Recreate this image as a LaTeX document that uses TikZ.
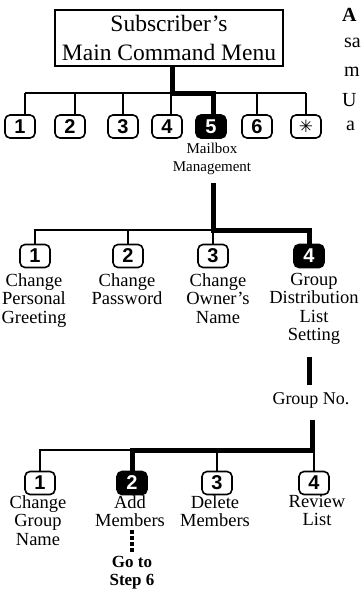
\documentclass[tikz,border=0pt]{standalone}
\usepackage{fontspec}
\setmainfont{Liberation Serif}
\newfontfamily\btnfont{Liberation Sans}
\newfontfamily\symfont{DejaVu Sans}
\begin{document}
\begin{tikzpicture}[x=1pt,y=-1pt,
  thin line/.style={line width=1.5pt},
  thick line/.style={line width=5pt},
  keybox/.style={draw, line width=1.6pt, rounded corners=5pt, minimum width=30pt,
     minimum height=23pt, inner sep=0pt, font=\btnfont\bfseries\fontsize{20}{20}\selectfont},
  keyon/.style={keybox, fill=black, text=white},
  lbl/.style={align=center, inner sep=0pt, anchor=north, font=\fontsize{18.5}{18.5}\selectfont},
  frag/.style={anchor=west, inner sep=0pt, font=\fontsize{20}{20}\selectfont}]
\clip (0,0) rectangle (360,600);
\fill[white] (0,0) rectangle (360,600);
% title
\node[draw, line width=1.4pt, minimum width=228pt, minimum height=56pt, align=center,
  font=\fontsize{23.5}{29}\selectfont, inner sep=0pt] (title) at (169,38)
  {Subscriber's\\Main Command Menu};
% right-hand fragments of neighbouring text
\node[frag, font=\bfseries\fontsize{20}{20}\selectfont] (f1) at (342,15) {A};
\node[frag] (f2) at (344,43) {sa};
\node[frag] (f3) at (344,72) {m};
\node[frag] (f4) at (342,100) {U};
\node[frag] (f5) at (346,126) {a};
% main keys
\node[keybox] (a1) at (20,126.5) {1};
\node[keybox] (a2) at (70,126.5) {2};
\node[keybox] (a3) at (123,126.5) {3};
\node[keybox] (a4) at (167,126.5) {4};
\node[keyon]  (a5) at (211,126.5) {5};
\node[keybox] (a6) at (257,126.5) {6};
\node[keybox] (a7) at (306,126.5) {\symfont\fontsize{17}{17}\selectfont ✳};
\coordinate (j1) at (172,93);
\draw[thin line] ([xshift=5pt]a1.north |- j1) -- (a7.north |- j1);
\draw[thin line] ([xshift=5pt]a1.north |- j1) -- ([xshift=5pt]a1.north);
\draw[thin line] ([xshift=5pt]a2.north |- j1) -- ([xshift=5pt]a2.north);
\draw[thin line] ([xshift=4pt]a4.north |- j1) -- ([xshift=4pt]a4.north);
\foreach \k in {a3,a6,a7} \draw[thin line] (\k.north |- j1) -- (\k.north);
\draw[thick line, line join=miter] (title.south -| j1) -- (j1) -- ([xshift=2pt]j1 -| a5) -- ([xshift=2pt]a5.north);
\node[lbl, font=\fontsize{15}{18}\selectfont] (mm) at (212,143) {Mailbox\\Management};
% second level
\node[keybox] (b1) at (35,256) {1};
\node[keybox] (b2) at (128,256) {2};
\node[keybox] (b3) at (213,256) {3};
\node[keyon]  (b4) at (309,256) {4};
\coordinate (j2) at (213,230);
\draw[thin line] (j2) -- (j2 -| b1) -- (b1.north);
\draw[thin line] (b2.north |- j2) -- (b2.north);
\draw[thin line] (j2) -- (b3.north);
\draw[thick line, line join=miter] ([yshift=-8pt]mm.south -| j2) -- (j2) -- (j2 -| b4) -- (b4.north);
\node[lbl] (c1) at (34,273) {Change\\Personal\\Greeting};
\node[lbl] (c2) at (127,273) {Change\\Password};
\node[lbl] (c3) at (218,273) {Change\\Owner's\\Name};
\node[lbl] (c4) at (314,273) {Group\\Distribution\\List\\Setting};
% group number
\node[lbl, font=\fontsize{18}{18}\selectfont] (gn) at (311,392) {Group No.};
\draw[thick line] ([yshift=-12pt]c4.south -| b4) -- ([yshift=7pt]gn.north -| b4);
% third level
\node[keybox] (d1) at (40,483) {1};
\node[keyon]  (d2) at (132,483) {2};
\node[keybox] (d3) at (217,483) {3};
\node[keybox] (d4) at (314,483) {4};
\coordinate (j3) at (312,450);
\draw[thin line] (j3) -- (j3 -| d1) -- (d1.north);
\draw[thin line] (d3.north |- j3) -- (d3.north);
\draw[thin line] (d4.north |- j3) -- (d4.north);
\draw[thick line, line join=miter] ([yshift=-12pt]gn.south -| j3) -- (j3) -- (j3 -| d2) -- (d2.north);
\node[lbl] (g1) at (38,495) {Change\\Group\\Name};
\node[lbl] (g2) at (130,495) {Add\\Members};
\node[lbl] (g3) at (215,495) {Delete\\Members};
\node[lbl] (g4) at (317,495) {Review\\List};
\node[lbl, font=\bfseries\fontsize{17}{18}\selectfont] (go) at (132,556) {Go to\\Step 6};
\draw[line width=3.5pt, dash pattern=on 3.5pt off 2.5pt] ([yshift=-3.5pt]g2.south -| go) -- ([yshift=2pt]go.north);
\end{tikzpicture}
\end{document}
